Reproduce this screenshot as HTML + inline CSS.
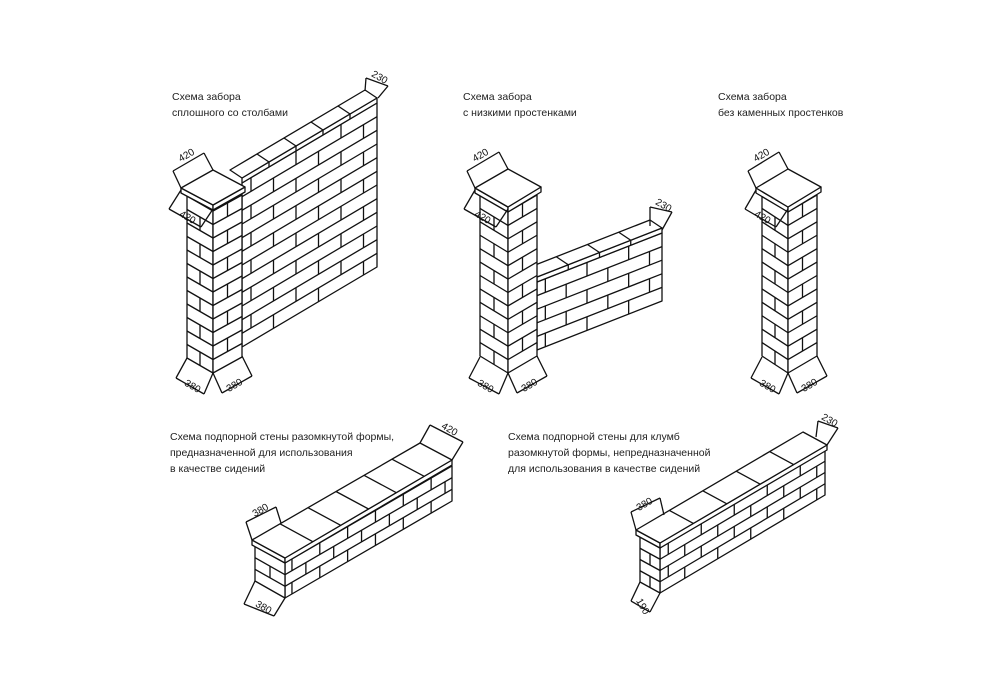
<!DOCTYPE html>
<html><head><meta charset="utf-8">
<style>
html,body{margin:0;padding:0;background:#fff;}
#w{position:relative;width:1000px;height:699px;overflow:hidden;background:#fff;}
svg{position:absolute;left:0;top:0;}
.t{font-family:"Liberation Sans","DejaVu Sans",sans-serif;font-size:10.5px;fill:#222;}
.d{font-family:"Liberation Sans","DejaVu Sans",sans-serif;font-size:10px;fill:#111;}
</style></head><body>
<div id="w">
<svg id="s" width="1000" height="699" viewBox="0 0 1000 699">
<g id="g" stroke="#111" stroke-width="1.3" fill="none" stroke-linejoin="round"></g>
<text class="t" x="172" y="100">Схема забора</text>
<text class="t" x="172" y="116">сплошного со столбами</text>
<text class="t" x="463" y="100">Схема забора</text>
<text class="t" x="463" y="116">с низкими простенками</text>
<text class="t" x="718" y="100">Схема забора</text>
<text class="t" x="718" y="116">без каменных простенков</text>
<text class="t" x="170" y="440">Схема подпорной стены разомкнутой формы,</text>
<text class="t" x="170" y="456">предназначенной для использования</text>
<text class="t" x="170" y="472">в качестве сидений</text>
<text class="t" x="508" y="440">Схема подпорной стены для клумб</text>
<text class="t" x="508" y="456">разомкнутой формы, непредназначенной</text>
<text class="t" x="508" y="472">для использования в качестве сидений</text>
<g id="dt"></g>
</svg>
</div>
<script>
var g=document.getElementById('g'),dt=document.getElementById('dt'),NS='http://www.w3.org/2000/svg';
function L(a,b,c,d){var e=document.createElementNS(NS,'line');e.setAttribute('x1',a);e.setAttribute('y1',b);e.setAttribute('x2',c);e.setAttribute('y2',d);g.appendChild(e);}
function P(pts,fill){var e=document.createElementNS(NS,'polygon');e.setAttribute('points',pts.map(function(p){return p.join(',')}).join(' '));if(fill)e.setAttribute('fill','#fff');g.appendChild(e);}
function T(x,y,a,s){var e=document.createElementNS(NS,'text');e.setAttribute('class','d');e.setAttribute('x',x);e.setAttribute('y',y);e.setAttribute('text-anchor','middle');e.setAttribute('transform','rotate('+a+' '+x+' '+y+')');e.textContent=s;dt.appendChild(e);}
function face(p,u,v,rows,n,off){
 P([p,[p[0]+u[0],p[1]+u[1]],[p[0]+u[0]+v[0],p[1]+u[1]+v[1]],[p[0]+v[0],p[1]+v[1]]],true);
 for(var i=0;i<rows;i++){
  var f0=i/rows,f1=(i+1)/rows;
  if(i>0)L(p[0]+v[0]*f0,p[1]+v[1]*f0,p[0]+u[0]+v[0]*f0,p[1]+u[1]+v[1]*f0);
  var sh=(i%2?0.5:0)+(off||0);
  for(var j=-1;j<=n;j++){var f=(j+sh)/n; if(f<=0.02||f>=0.98)continue;
   L(p[0]+u[0]*f+v[0]*f0,p[1]+u[1]*f+v[1]*f0,p[0]+u[0]*f+v[0]*f1,p[1]+u[1]*f+v[1]*f1);}
 }
}
function cap(l,b,r,f,t){
 P([l,[l[0],l[1]+t],[f[0],f[1]+t],f],true);
 P([f,[f[0],f[1]+t],[r[0],r[1]+t],r],true);
 P([l,b,r,f],true);
}
function coping(a,u,d,t,n){ // a front-bottom-left, u along, d depth, t thickness
 var ft=[a[0],a[1]-t];
 P([a,[a[0]+u[0],a[1]+u[1]],[ft[0]+u[0],ft[1]+u[1]],ft],true);
 P([ft,[ft[0]+u[0],ft[1]+u[1]],[ft[0]+u[0]+d[0],ft[1]+u[1]+d[1]],[ft[0]+d[0],ft[1]+d[1]]],true);
 for(var k=1;k<n;k++){var f=k/n;L(ft[0]+u[0]*f,ft[1]+u[1]*f,ft[0]+u[0]*f+d[0],ft[1]+u[1]*f+d[1]);L(a[0]+u[0]*f,a[1]+u[1]*f,ft[0]+u[0]*f,ft[1]+u[1]*f);}
}
function dim(p1,q1,p2,q2,tx,ty,a,s){L(p1[0],p1[1],q1[0],q1[1]);L(p2[0],p2[1],q2[0],q2[1]);L(q1[0],q1[1],q2[0],q2[1]);T(tx,ty,a,s);}
function pillar(dx,lx,fx,rx){
 cap([lx-6+dx*0,188],[fx,169],[rx+2,188],[fx,207],5);
}
// Fence 1
face([242,183],[135,-80],[0,164],12,3,0.2);
coping([242,183],[135,-80],[-12,-8],5,5);
face([187,196],[26,15],[0,162],12,1,0);
face([213,211],[29,-16],[0,162],12,1,0.5);
cap([181,188],[213,170],[245,187],[213,205],5);
dim([181,188],[173,171],[213,170],[204,153],188,158,-30,'420');
dim([181,190],[169,209],[213,209],[201,227],186,220,30,'420');
dim([187,358],[176,378],[213,373],[204,394],191,389,30,'380');
dim([213,373],[222,393],[242,356],[252,376],236,388,-30,'380');
dim([365,91],[366,78],[378,98],[388,86],378,80,30,'230');
// Fence 2
face([537,282],[125,-49],[0,68],5,3,0.2);
coping([537,282],[125,-49],[-12,-8],5,4);
face([480,195],[28,17],[0,161],12,1,0);
face([508,212],[29,-17],[0,161],12,1,0.5);
cap([475,188],[508,169],[541,187],[508,207],5);
dim([475,188],[467,171],[508,169],[499,152],482,158,-30,'420');
dim([475,190],[464,209],[508,209],[496,227],481,220,30,'420');
dim([480,357],[469,378],[508,373],[499,394],484,389,30,'380');
dim([508,373],[517,393],[537,356],[547,376],531,388,-30,'380');
dim([650,226],[650,207],[662,230],[672,212],662,208,30,'230');
// Fence 3
face([762,195],[26,17],[0,161],12,1,0);
face([788,212],[29,-17],[0,161],12,1,0.5);
cap([756,188],[788,169],[821,187],[788,207],5);
dim([756,188],[748,171],[788,169],[779,152],763,158,-30,'420');
dim([756,190],[745,209],[788,209],[776,227],761,220,30,'420');
dim([762,357],[751,378],[788,373],[779,394],766,389,30,'380');
dim([788,373],[797,393],[817,356],[827,376],811,388,-30,'380');
// Bottom wall 1
face([285,563],[167,-97],[0,35],3,6,0.25);
face([255,546],[30,17],[0,35],3,1,0);
cap([252,540],[420,443],[452,460],[285,558],5);
for(var k=1;k<6;k++){var f=k/6;L(252+168*f,540-97*f,285+167*f,558-98*f);}
dim([252,540],[246,522],[281,523],[276,507],262,513,-30,'380');
dim([255,581],[244,604],[285,598],[274,616],262,610,30,'380');
dim([420,443],[430,425],[452,460],[463,442],448,432,30,'420');
// Bottom wall 2
face([660,548],[165,-98],[0,45],4,5,0.25);
face([640,537],[20,11],[0,45],4,1,0);
cap([636,530],[803,432],[827,445],[660,543],5);
for(var k=1;k<5;k++){var f=k/5;L(636+167*f,530-98*f,660+167*f,543-98*f);}
dim([636,530],[631,512],[664,515],[660,498],646,507,-30,'380');
dim([640,582],[631,601],[660,593],[650,612],640,608,60,'190');
dim([816,437],[818,421],[827,445],[838,428],828,423,30,'230');
</script>
</body></html>
